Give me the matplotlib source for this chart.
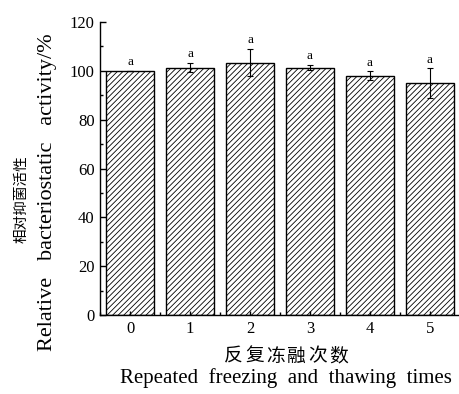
import numpy as np
import matplotlib.pyplot as plt
from matplotlib.ticker import MultipleLocator

plt.rcParams['font.family'] = ['Liberation Serif', 'Noto Sans CJK SC']
plt.rcParams['hatch.linewidth'] = 0.6

times = [0, 1, 2, 3, 4, 5]
activity = [100.0, 101.4, 103.4, 101.4, 98.1, 95.0]
errors = [0.0, 2.0, 5.5, 1.0, 1.7, 6.0]
letters = ['a', 'a', 'a', 'a', 'a', 'a']

xlabel_cn = '反复冻融次数'
xlabel_en = 'Repeated  freezing  and  thawing  times'
ylabel_cn = '相对抑菌活性'
ylabel_en = 'Relative   bacteriostatic   activity/%'

W, H = 459, 394
fig = plt.figure(figsize=(W / 100, H / 100), dpi=100)
ax = fig.add_axes([0.218, 0.2, 0.784, 0.744])

x = np.arange(len(times))
ax.bar(x, activity, width=0.81, color='white', edgecolor='black',
       linewidth=1.0, hatch='//////')
ax.errorbar(x, activity, yerr=errors, fmt='none', ecolor='black',
            elinewidth=0.8, capsize=2.5, capthick=0.8)

for xi, v, e, s in zip(x, activity, errors, letters):
    ax.annotate(s, (xi, v + e), xytext=(0, 2), textcoords='offset points',
                ha='center', va='bottom', fontsize=9.5)

ax.set_xlim(-0.5, 5.5)
ax.set_ylim(0, 120)
ax.set_xticks(x)
ax.set_xticklabels([str(t) for t in times])
ax.xaxis.set_minor_locator(MultipleLocator(1, offset=0.5))
ax.yaxis.set_major_locator(MultipleLocator(20))
ax.yaxis.set_minor_locator(MultipleLocator(10))

for s in ['top', 'right']:
    ax.spines[s].set_visible(False)
ax.spines['left'].set_linewidth(1.0)
ax.spines['bottom'].set_linewidth(1.0)

ax.tick_params(axis='both', which='major', direction='in', length=4,
               width=1.0, labelsize=12, pad=4)
ax.tick_params(axis='both', which='minor', direction='in', length=2.5,
               width=1.0)
ax.tick_params(axis='x', which='major', length=3)

# Chinese x label, letter-spaced
pitch = 21 / W
cx = 286 / W
for i, ch in enumerate(xlabel_cn):
    fig.text(cx + (i - (len(xlabel_cn) - 1) / 2) * pitch, 0.096, ch,
             ha='center', va='center', fontsize=13.5,
             family=['Noto Sans CJK SC'])
fig.text(cx, 0.04, xlabel_en, ha='center', va='center', fontsize=15)
fig.text(0.046, 0.495, ylabel_cn, ha='center', va='center',
         rotation=90, fontsize=10.5, family=['Noto Sans CJK SC'])
fig.text(0.104, 0.513, ylabel_en, ha='center', va='center',
         rotation=90, fontsize=16)

fig.savefig('out.png', dpi=100)
